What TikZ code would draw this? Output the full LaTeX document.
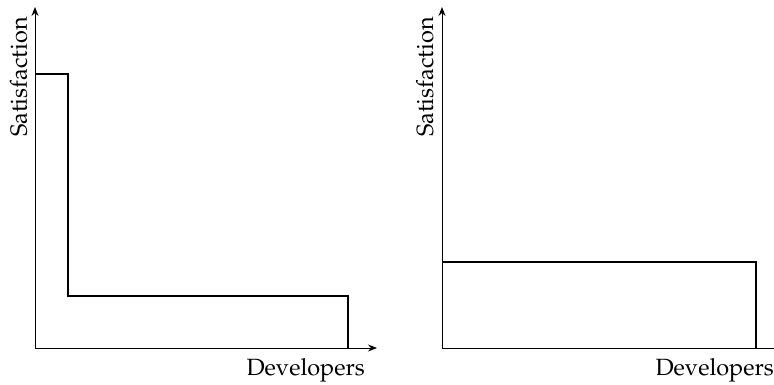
\documentclass[tikz,border=0pt]{standalone}
\usepackage[T1]{fontenc}
\usepackage{mathpazo}
\usetikzlibrary{arrows.meta}
\tikzset{
  axis/.style={line width=0.9pt,-{Stealth[length=9pt,width=7pt,inset=3pt]}},
  curve/.style={line width=1.8pt,line join=miter},
  lab/.style={inner sep=0pt,font=\fontsize{23.5}{28}\selectfont}
}
\begin{document}
\begin{tikzpicture}[x=1pt,y=1pt]
\useasboundingbox (0,0) rectangle (774,384);
\begin{scope}
\clip (0,0) rectangle (774,384);
% left plot
\coordinate (o1) at (35,36);
\coordinate (y1) at (35,377);
\coordinate (x1) at (377,36);
\draw[axis] (o1) -- (y1);
\draw[axis] (o1) -- (x1);
\coordinate (a1) at (35,310);
\coordinate (b1) at (68,310);
\coordinate (c1) at (68,88);
\coordinate (d1) at (348,88);
\coordinate (e1) at (348,36);
\draw[curve] (a1) -- (b1) -- (c1) -- (d1) -- (e1);
\node[lab,anchor=base,rotate=90] (s1) at (27,307) {Satisfaction};
\node[lab,anchor=base east] (dv1) at (365,9) {Developers};
% right plot
\coordinate (o2) at (442,36);
\coordinate (y2) at (442,377);
\coordinate (x2) at (786,36);
\draw[axis] (o2) -- (y2);
\draw[axis] (o2) -- (x2);
\coordinate (a2) at (442,122);
\coordinate (b2) at (756,122);
\coordinate (c2) at (756,36);
\draw[curve] (a2) -- (b2) -- (c2);
\node[lab,anchor=base,rotate=90] (s2) at (433,307) {Satisfaction};
\node[lab,anchor=base east] (dv2) at (774,9) {Developers};
\end{scope}
\end{tikzpicture}
\end{document}
